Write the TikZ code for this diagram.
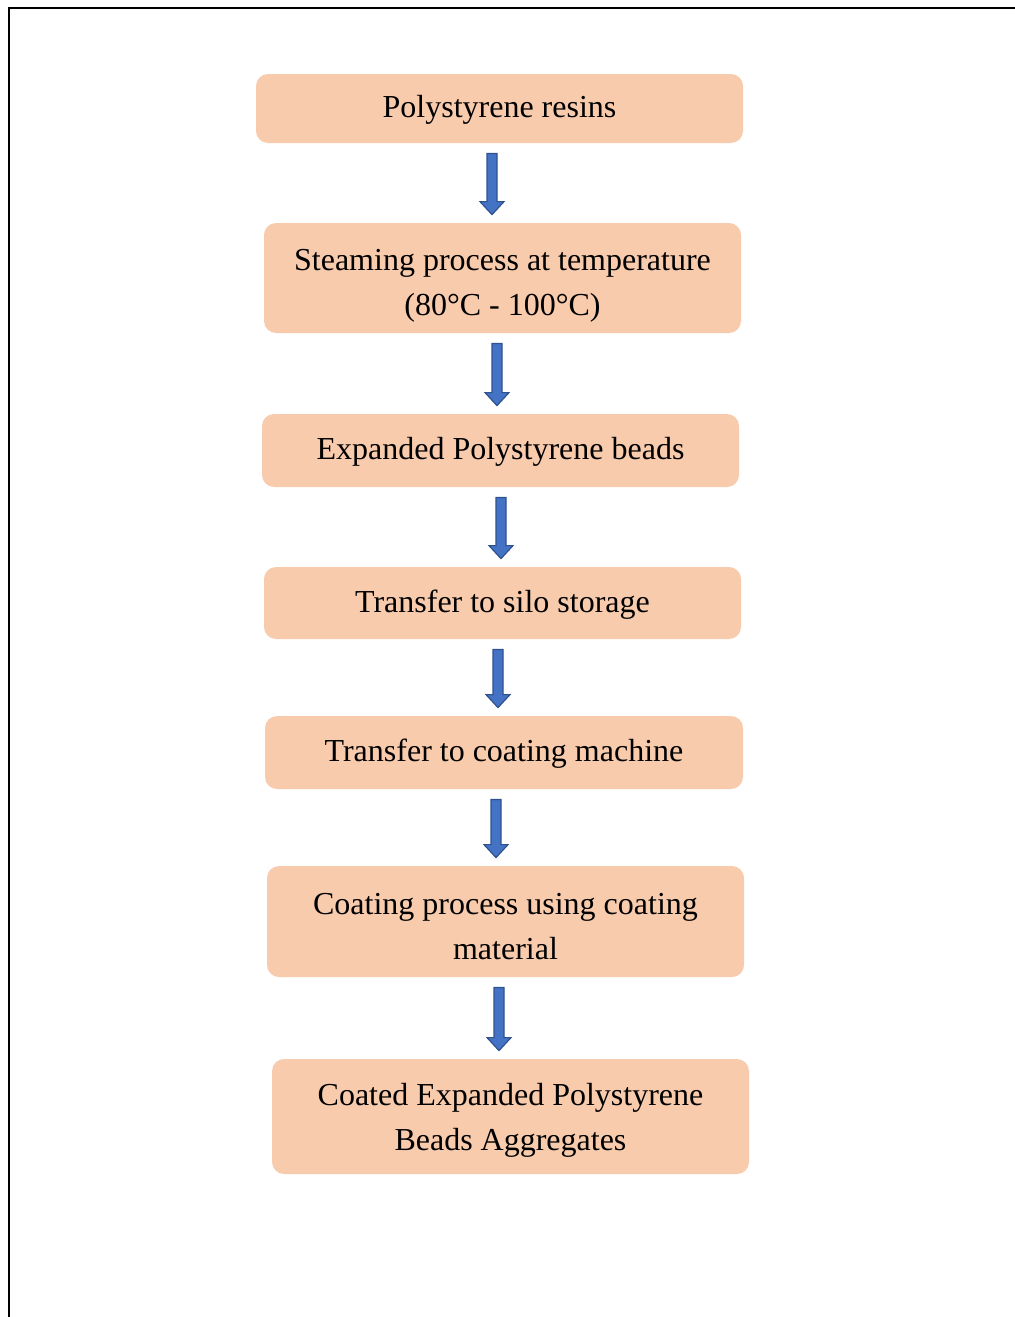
\documentclass[tikz,border=0pt]{standalone}
\usepackage{fontspec}
\setmainfont{Liberation Serif}
\usetikzlibrary{calc}
\definecolor{boxfill}{HTML}{F8CBAD}
\definecolor{arrowfill}{HTML}{4472C4}
\definecolor{arrowline}{HTML}{2F528F}
\tikzset{
  stepbox/.style={fill=boxfill, rounded corners=6pt, align=center, inner sep=0pt,
    text height=12.5pt, font=\fontsize{16}{22.5}\selectfont},
  flow/.style={fill=arrowfill, draw=arrowline, line width=0.6pt,
    to path={let \p1=(\tikztostart), \p2=(\tikztotarget) in
      (\x1-2.5pt,\y1-5pt) -- (\x1+2.5pt,\y1-5pt) -- (\x1+2.5pt,\y2+10.5pt)
      -- (\x1+6pt,\y2+10.5pt) -- (\x1,\y2+4pt) -- (\x1-6pt,\y2+10.5pt)
      -- (\x1-2.5pt,\y2+10.5pt) -- cycle}}
}
\begin{document}
\begin{tikzpicture}[x=0.5pt,y=-0.5pt]
\useasboundingbox (0,0) rectangle (1015,1317);
\draw[line width=1.3pt] (9,1317) -- (9,8) -- (1015,8);
\node at (499.5,108.5) [stepbox, minimum width=243.5pt, minimum height=34.5pt](resin){Polystyrene resins};
\node at (502.5,278) [stepbox, text height=40.9pt, minimum width=238.5pt, minimum height=55pt](steam){Steaming process at temperature\\(80°C - 100°C)};
\node at (500.5,450.5) [stepbox, minimum width=238.5pt, minimum height=36.5pt](beads){Expanded Polystyrene beads};
\node at (502.5,603) [stepbox, minimum width=238.5pt, minimum height=36pt](silo){Transfer to silo storage};
\node at (504,752.5) [stepbox, minimum width=239pt, minimum height=36.5pt](machine){Transfer to coating machine};
\node at (505.5,921.5) [stepbox, text height=37.9pt, minimum width=238.5pt, minimum height=55.5pt](coating){Coating process using coating\\material};
\node at (510.5,1116.5) [stepbox, text height=37.9pt, minimum width=238.5pt, minimum height=57.5pt](product){Coated Expanded Polystyrene\\Beads Aggregates};
\draw[flow] ([xshift=-3.75pt]resin.south) to (steam.north);
\draw[flow] ([xshift=-2.75pt]steam.south) to (beads.north);
\draw[flow] ([xshift=0.25pt]beads.south) to (silo.north);
\draw[flow] ([xshift=-2.25pt]silo.south) to (machine.north);
\draw[flow] ([xshift=-4pt]machine.south) to (coating.north);
\draw[flow] ([xshift=-3.25pt]coating.south) to (product.north);
\end{tikzpicture}
\end{document}
